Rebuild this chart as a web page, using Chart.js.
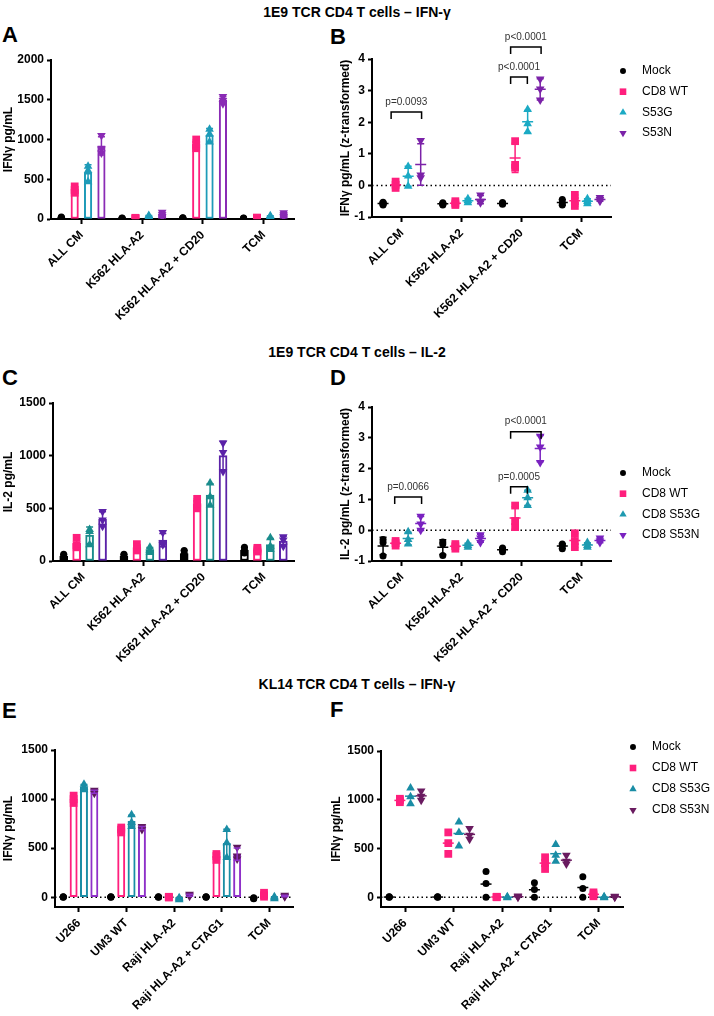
<!DOCTYPE html>
<html>
<head>
<meta charset="utf-8">
<script src="https://cdn.jsdelivr.net/npm/chart.js@4.4.1/dist/chart.umd.min.js"></script>
<style>
  body { margin: 0; background: #fff; width: 714px; height: 1016px; position: relative; overflow: hidden;
         font-family: Arial, 'Liberation Sans', sans-serif; color: #000; }
  .title { position: absolute; left: 0; width: 714px; text-align: center; font-weight: bold; font-size: 14px; line-height: 14px; }
  .letter { position: absolute; font-weight: bold; font-size: 22px; line-height: 22px; }
  canvas { position: absolute; }
</style>
</head>
<body>
<div class="title" style="top:5px">1E9 TCR CD4 T cells – IFN-γ</div>
<div class="title" style="top:345px">1E9 TCR CD4 T cells – IL-2</div>
<div class="title" style="top:677px">KL14 TCR CD4 T cells – IFN-γ</div>

<div class="letter" style="left:2px;top:24px">A</div>
<div class="letter" style="left:330px;top:26px">B</div>
<div class="letter" style="left:2px;top:367px">C</div>
<div class="letter" style="left:330px;top:367px">D</div>
<div class="letter" style="left:2px;top:700px">E</div>
<div class="letter" style="left:330px;top:699px">F</div>

<canvas id="chartA" width="300" height="305" style="left:0;top:25px"></canvas>
<canvas id="chartB" width="377" height="305" style="left:337px;top:25px"></canvas>
<canvas id="chartC" width="300" height="315" style="left:0;top:365px"></canvas>
<canvas id="chartD" width="377" height="315" style="left:337px;top:365px"></canvas>
<canvas id="chartE" width="300" height="316" style="left:0;top:700px"></canvas>
<canvas id="chartF" width="386" height="316" style="left:328px;top:700px"></canvas>

<script>
// categories
const groups1E9 = ['ALL CM', 'K562 HLA-A2', 'K562 HLA-A2 + CD20', 'TCM'];
const groupsKL14 = ['U266', 'UM3 WT', 'Raji HLA-A2', 'Raji HLA-A2 + CTAG1', 'TCM'];
const seriesB = ['Mock', 'CD8 WT', 'S53G', 'S53N'];
const seriesDF = ['Mock', 'CD8 WT', 'CD8 S53G', 'CD8 S53N'];

// tick labels
const ticksA = [0, 500, 1000, 1500, 2000];
const ticksZ = [-1, 0, 1, 2, 3, 4];
const ticksC = [0, 500, 1000, 1500];
const ticksEF = [0, 500, 1000, 1500];

// replicates, one array per group (3 donors each)
// A: IFNy pg/mL
const ifnA_mock = [[12, 18, 24], [5, 8, 12], [8, 12, 16], [4, 8, 12]];
const ifnA_wt   = [[330, 365, 410], [5, 10, 15], [890, 935, 1000], [8, 12, 18]];
const ifnA_s53g = [[470, 610, 665], [18, 30, 45], [970, 1070, 1130], [18, 28, 40]];
const ifnA_s53n = [[830, 880, 1050], [30, 55, 85], [1450, 1490, 1540], [30, 50, 80]];

// B: IFNy z-transformed
const ifnZ_mock = [[-0.62, -0.57, -0.53], [-0.62, -0.58, -0.55], [-0.6, -0.57, -0.54], [-0.62, -0.55, -0.45]];
const ifnZ_wt   = [[-0.08, 0.02, 0.12], [-0.62, -0.57, -0.5], [0.56, 0.65, 1.4], [-0.65, -0.5, -0.3]];
const ifnZ_s53g = [[-0.03, 0.3, 0.6], [-0.55, -0.48, -0.42], [1.7, 1.95, 2.4], [-0.58, -0.5, -0.42]];
const ifnZ_s53n = [[0.24, 0.33, 1.42], [-0.55, -0.5, -0.3], [2.7, 3.05, 3.37], [-0.5, -0.45, -0.38]];

// C: IL-2 pg/mL
const il2_mock = [[30, 45, 65], [25, 45, 65], [40, 70, 100], [75, 105, 130]];
const il2_wt   = [[130, 150, 220], [100, 120, 160], [500, 545, 590], [90, 110, 125]];
const il2_s53g = [[155, 280, 300], [80, 100, 130], [530, 610, 740], [110, 140, 220]];
const il2_s53n = [[330, 390, 470], [155, 170, 270], [850, 1030, 1120], [140, 200, 230]];

// D: IL-2 z-transformed
const il2Z_mock = [[-0.84, -0.4, -0.3], [-0.82, -0.45, -0.38], [-0.7, -0.62, -0.58], [-0.6, -0.5, -0.45]];
const il2Z_wt   = [[-0.5, -0.42, -0.35], [-0.6, -0.52, -0.45], [0.1, 0.3, 0.8], [-0.55, -0.35, -0.1]];
const il2Z_s53g = [[-0.45, -0.3, -0.05], [-0.55, -0.5, -0.42], [0.8, 1.05, 1.3], [-0.55, -0.5, -0.4]];
const il2Z_s53n = [[0.0, 0.2, 0.45], [-0.4, -0.25, -0.15], [2.2, 2.7, 3.05], [-0.4, -0.35, -0.25]];

// E: KL14 IFNy pg/mL (bars)
const klE_mock = [[0, 2, 4], [0, 2, 4], [0, 2, 4], [0, 2, 4], [-15, -10, -5]];
const klE_wt   = [[960, 1000, 1035], [660, 690, 710], [-3, 0, 4], [380, 420, 440], [5, 20, 45]];
const klE_s53g = [[1095, 1120, 1150], [720, 760, 840], [-25, -15, -5], [405, 555, 690], [-15, -5, 5]];
const klE_s53n = [[1060, 1075, 1090], [690, 705, 720], [10, 20, 30], [390, 420, 510], [5, 10, 20]];

// F: KL14 IFNy pg/mL (points)
const klF_mock = [[0, 2, 4], [0, 2, 4], [0, 140, 265], [0, 80, 150], [0, 90, 210]];
const klF_wt   = [[975, 995, 1010], [445, 555, 665], [0, 2, 5], [290, 350, 410], [10, 30, 50]];
const klF_s53g = [[960, 1030, 1120], [525, 665, 772], [-5, 0, 5], [370, 430, 540], [-5, 0, 5]];
const klF_s53n = [[995, 1035, 1090], [595, 635, 705], [0, 5, 12], [340, 370, 430], [0, 5, 10]];

// significance brackets (group, x offsets, height in axis units)
const bracketsB = [
    {g: 0, x1: -0.18, x2: 0.33, y: 2.32, text: 'p=0.0093'},
    {g: 2, x1: -0.18, x2: 0.1, y: 3.43, text: 'p<0.0001'},
    {g: 2, x1: -0.18, x2: 0.33, y: 4.38, text: 'p<0.0001'}
];
const bracketsD = [
    {g: 0, x1: -0.12, x2: 0.33, y: 1.08, text: 'p=0.0066'},
    {g: 2, x1: -0.18, x2: 0.1, y: 1.41, text: 'p=0.0005'},
    {g: 2, x1: -0.18, x2: 0.33, y: 3.2, text: 'p<0.0001'}
];

const FONT = "Arial, 'Liberation Sans', sans-serif";
Chart.defaults.font.family = FONT;
Chart.defaults.color = '#000';

const pink = '#FF1F7D';
const shapes = [
    {pointStyle: 'circle', radius: 3.5, rotation: 0},
    {pointStyle: 'rect', radius: 5.5, rotation: 0},
    {pointStyle: 'triangle', radius: 5, rotation: 0},
    {pointStyle: 'triangle', radius: 5, rotation: 180}
];

function mean(a) { return a.reduce((s, v) => s + v, 0) / a.length; }
function sd(a) {
    const m = mean(a);
    return Math.sqrt(a.reduce((s, v) => s + (v - m) * (v - m), 0) / (a.length - 1));
}

function panel(id, p) {
    const n = p.groups.length;
    const off = k => p.cat * ((k + 0.5) / 4 - 0.5);
    const datasets = [];

    // hollow bars at the mean, placed on the same hidden linear axis as the points
    if (p.bars) {
        p.reps.forEach((r, k) => datasets.push({
            type: 'bar',
            xAxisID: 'xp',
            data: r.map((vals, g) => ({x: g + off(k), y: mean(vals)})),
            backgroundColor: '#fff',
            borderColor: p.bars[k],
            borderWidth: 2,
            borderSkipped: false,
            grouped: false,
            barThickness: p.barW,
            order: 3
        }));
    }
    p.reps.forEach((r, k) => datasets.push({
        type: 'scatter',
        xAxisID: 'xp',
        data: r.flatMap((vals, g) => vals.map(v => ({x: g + off(k), y: v}))),
        pointStyle: shapes[k].pointStyle,
        pointRadius: shapes[k].radius,
        pointRotation: shapes[k].rotation,
        backgroundColor: p.colors[k],
        borderWidth: 0,
        order: 1
    }));

    const extras = {
        id: 'extras',
        beforeDatasetsDraw(chart) {
            if (!p.zeroLine) return;
            const {ctx, chartArea} = chart;
            const y0 = chart.scales.y.getPixelForValue(0);
            ctx.save();
            ctx.strokeStyle = '#000';
            ctx.lineWidth = 1.5;
            ctx.setLineDash([1.5, 3]);
            ctx.beginPath();
            ctx.moveTo(chartArea.left, y0);
            ctx.lineTo(chartArea.right, y0);
            ctx.stroke();
            ctx.restore();
        },
        afterDatasetsDraw(chart) {
            const ctx = chart.ctx;
            const xs = chart.scales.xp, ys = chart.scales.y;
            ctx.save();
            // error bars / mean lines
            p.reps.forEach((r, k) => r.forEach((vals, g) => {
                const m = mean(vals), s = sd(vals);
                const x = xs.getPixelForValue(g + off(k));
                const yt = ys.getPixelForValue(m + s), yb = ys.getPixelForValue(m - s);
                const ym = ys.getPixelForValue(m);
                ctx.strokeStyle = p.bars ? p.bars[k] : p.colors[k];
                ctx.lineWidth = 1.5;
                ctx.beginPath();
                if (p.err !== 'mean' && s > 0) {
                    ctx.moveTo(x, yt); ctx.lineTo(x, yb);
                    ctx.moveTo(x - 3.5, yt); ctx.lineTo(x + 3.5, yt);
                    ctx.moveTo(x - 3.5, yb); ctx.lineTo(x + 3.5, yb);
                }
                if (p.err !== 'bar') {
                    ctx.moveTo(x - 5.5, ym); ctx.lineTo(x + 5.5, ym);
                }
                ctx.stroke();
            }));
            // significance brackets
            (p.brackets || []).forEach(b => {
                const x1 = xs.getPixelForValue(b.g + b.x1), x2 = xs.getPixelForValue(b.g + b.x2);
                const y = ys.getPixelForValue(b.y);
                ctx.strokeStyle = '#000';
                ctx.lineWidth = 1.5;
                ctx.beginPath();
                ctx.moveTo(x1, y + 7); ctx.lineTo(x1, y); ctx.lineTo(x2, y); ctx.lineTo(x2, y + 7);
                ctx.stroke();
                ctx.fillStyle = '#333';
                ctx.font = '10px ' + FONT;
                ctx.textAlign = 'center';
                ctx.textBaseline = 'middle';
                ctx.fillText(b.text, (x1 + x2) / 2, y - 10);
            });
            // legend
            if (p.legend) {
                p.legend.labels.forEach((lab, k) => {
                    const y = p.legend.y + k * p.legend.dy;
                    ctx.fillStyle = p.colors[k];
                    Chart.helpers.drawPoint(ctx, {
                        pointStyle: shapes[k].pointStyle, radius: shapes[k].radius * 0.85,
                        rotation: shapes[k].rotation, borderWidth: 0
                    }, p.legend.x, y);
                    ctx.fillStyle = '#000';
                    ctx.font = '12px ' + FONT;
                    ctx.textAlign = 'left';
                    ctx.textBaseline = 'middle';
                    ctx.fillText(lab, p.legend.tx, y);
                });
            }
            ctx.restore();
        }
    };

    const tickFont = {size: 12, weight: 'bold', family: FONT};
    new Chart(document.getElementById(id), {
        type: 'bar',
        data: {labels: p.groups, datasets: datasets},
        options: {
            responsive: false,
            animation: false,
            devicePixelRatio: 1,
            layout: {padding: {left: 0, top: p.top, right: p.right, bottom: 0}},
            plugins: {legend: {display: false}, tooltip: {enabled: false}},
            scales: {
                x: {
                    type: 'category',
                    offset: true,
                    afterFit: s => { s.height = p.xH; },
                    border: {display: true, color: '#000', width: 2},
                    grid: {display: true, offset: false, drawOnChartArea: false, tickLength: 5, tickWidth: 2, tickColor: '#000'},
                    ticks: {autoSkip: false, maxRotation: 45, minRotation: 45, font: tickFont, color: '#000', padding: 4}
                },
                xp: {type: 'linear', axis: 'x', display: false, offset: false, min: -0.5, max: n - 0.5},
                y: {
                    min: p.yMin,
                    max: p.yMax,
                    afterBuildTicks: s => { s.ticks = p.ticks.map(v => ({value: v})); },
                    afterFit: s => { s.width = p.yW; },
                    border: {display: true, color: '#000', width: 2},
                    grid: {display: true, drawOnChartArea: false, tickLength: 4, tickWidth: 2, tickColor: '#000'},
                    ticks: {font: tickFont, color: '#000', padding: 3, callback: v => String(v)},
                    title: {display: true, text: p.yTitle, font: tickFont, color: '#000', padding: {top: 1, bottom: 0}}
                }
            }
        },
        plugins: [extras]
    });
}

panel('chartA', {
    groups: groups1E9, reps: [ifnA_mock, ifnA_wt, ifnA_s53g, ifnA_s53n],
    colors: ['#000', pink, '#1E9BB8', '#8A2BB5'], bars: ['#000', pink, '#1E9BB8', '#8A2BB5'],
    cat: 0.88, barW: 7.5, err: 'bar',
    yMin: 0, yMax: 2000, ticks: ticksA, yTitle: 'IFNγ pg/mL',
    top: 35, right: 6, yW: 51, xH: 111
});
panel('chartB', {
    groups: groups1E9, reps: [ifnZ_mock, ifnZ_wt, ifnZ_s53g, ifnZ_s53n],
    colors: ['#000', pink, '#1BAAC4', '#7B22A8'],
    cat: 0.84, err: 'sd', zeroLine: true, brackets: bracketsB,
    yMin: -1, yMax: 4, ticks: ticksZ, yTitle: 'IFNγ pg/mL (z-transformed)',
    top: 34, right: 103, yW: 35, xH: 113,
    legend: {labels: seriesB, x: 286, tx: 305, y: 46, dy: 20.7}
});
panel('chartC', {
    groups: groups1E9, reps: [il2_mock, il2_wt, il2_s53g, il2_s53n],
    colors: ['#000', pink, '#1A8C8C', '#5B22A8'], bars: ['#000', pink, '#1A8C8C', '#5B22A8'],
    cat: 0.86, barW: 8, err: 'bar',
    yMin: 0, yMax: 1500, ticks: ticksC, yTitle: 'IL-2 pg/mL',
    top: 38, right: 6, yW: 53, xH: 119
});
panel('chartD', {
    groups: groups1E9, reps: [il2Z_mock, il2Z_wt, il2Z_s53g, il2Z_s53n],
    colors: ['#000', pink, '#1E9AB0', '#7A22C0'],
    cat: 0.84, err: 'sd', zeroLine: true, brackets: bracketsD,
    yMin: -1, yMax: 4, ticks: ticksZ, yTitle: 'IL-2 pg/mL (z-transformed)',
    top: 42, right: 103, yW: 35, xH: 119,
    legend: {labels: seriesDF, x: 286, tx: 305, y: 108, dy: 20.7}
});
panel('chartE', {
    groups: groupsKL14, reps: [klE_mock, klE_wt, klE_s53g, klE_s53n],
    colors: ['#000', pink, '#1A8DA5', '#5E1A5E'], bars: ['#000', pink, '#1A8DA5', '#8E30C8'],
    cat: 0.87, barW: 7.3, err: 'bar', zeroLine: true,
    yMin: -100, yMax: 1500, ticks: ticksEF, yTitle: 'IFNγ pg/mL',
    top: 50, right: 7, yW: 55, xH: 109
});
panel('chartF', {
    groups: groupsKL14, reps: [klF_mock, klF_wt, klF_s53g, klF_s53n],
    colors: ['#000', pink, '#1A8DA5', '#6A1B60'],
    cat: 0.88, err: 'mean', zeroLine: true,
    yMin: -100, yMax: 1500, ticks: ticksEF, yTitle: 'IFNγ pg/mL',
    top: 51, right: 91, yW: 53, xH: 109,
    legend: {labels: seriesDF, x: 305, tx: 324, y: 47, dy: 21}
});
</script>
</body>
</html>
